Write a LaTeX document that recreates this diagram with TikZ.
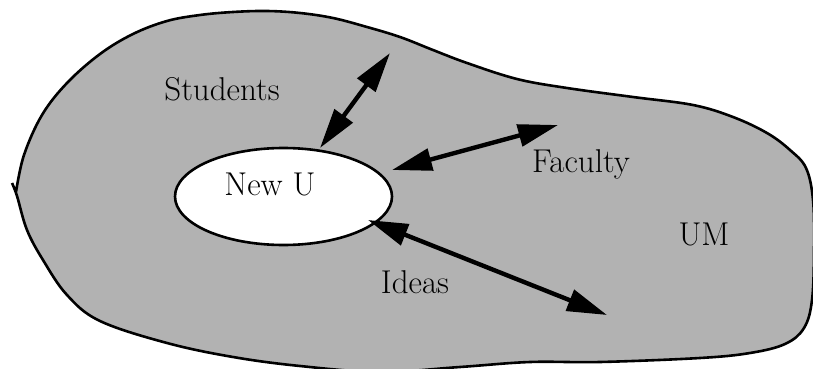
\documentclass[tikz,border=0pt]{standalone}
\usetikzlibrary{arrows.meta,shapes.geometric}
\begin{document}
\begin{tikzpicture}[x=1pt,y=-1pt,
  blob/.style={draw=black,line width=2.6pt,fill=black!30,line join=round},
  uni/.style={draw=black,line width=2.6pt,fill=white,ellipse,minimum width=217pt,minimum height=97pt,inner sep=0pt},
  lbl/.style={font=\fontsize{33}{40}\selectfont,inner sep=0pt},
  flow/.style={line width=4.4pt,{Triangle[length=40pt,width=22pt]}-{Triangle[length=40pt,width=22pt]}}]
\useasboundingbox (0,0) rectangle (813,369);
\draw[blob] plot[smooth,tension=0.6] coordinates {
 (12,183) (17,196) (27,230) (43,260) (67,295) (100,321) (167,343) (233,357)
 (300,366) (380,372) (460,367) (530,362) (600,362) (700,358)
 (750,353) (785,344) (804,328) (812,300) (814,250) (813,200)
 (806,168) (790,150) (767,133) (733,117) (693,105) (633,97) (567,88)
 (517,79) (467,63) (433,50) (400,37) (367,27) (333,18) (300,13) (267,11)
 (233,12) (200,15) (167,21) (133,34) (100,54) (67,83) (42,115)
 (24,155) (16,192)};
\node[uni] (nu) at (283.5,196.5) {};
\node[lbl] (nutext) at (270,184) {New U};
\node[lbl] (students) at (222,89) {Students};
\node[lbl] (faculty) at (581,164) {Faculty};
\node[lbl] (um) at (704,234) {UM};
\node[lbl] (ideas) at (415,282) {Ideas};
\coordinate (s1) at (320,148);
\coordinate (s2) at (390,53);
\coordinate (f1) at (392,170);
\coordinate (f2) at (558,125);
\coordinate (i1) at (368,220);
\coordinate (i2) at (607,315);
\draw[flow] (s1) -- (s2);
\draw[flow] (f1) -- (f2);
\draw[flow] (i1) -- (i2);
\end{tikzpicture}
\end{document}
